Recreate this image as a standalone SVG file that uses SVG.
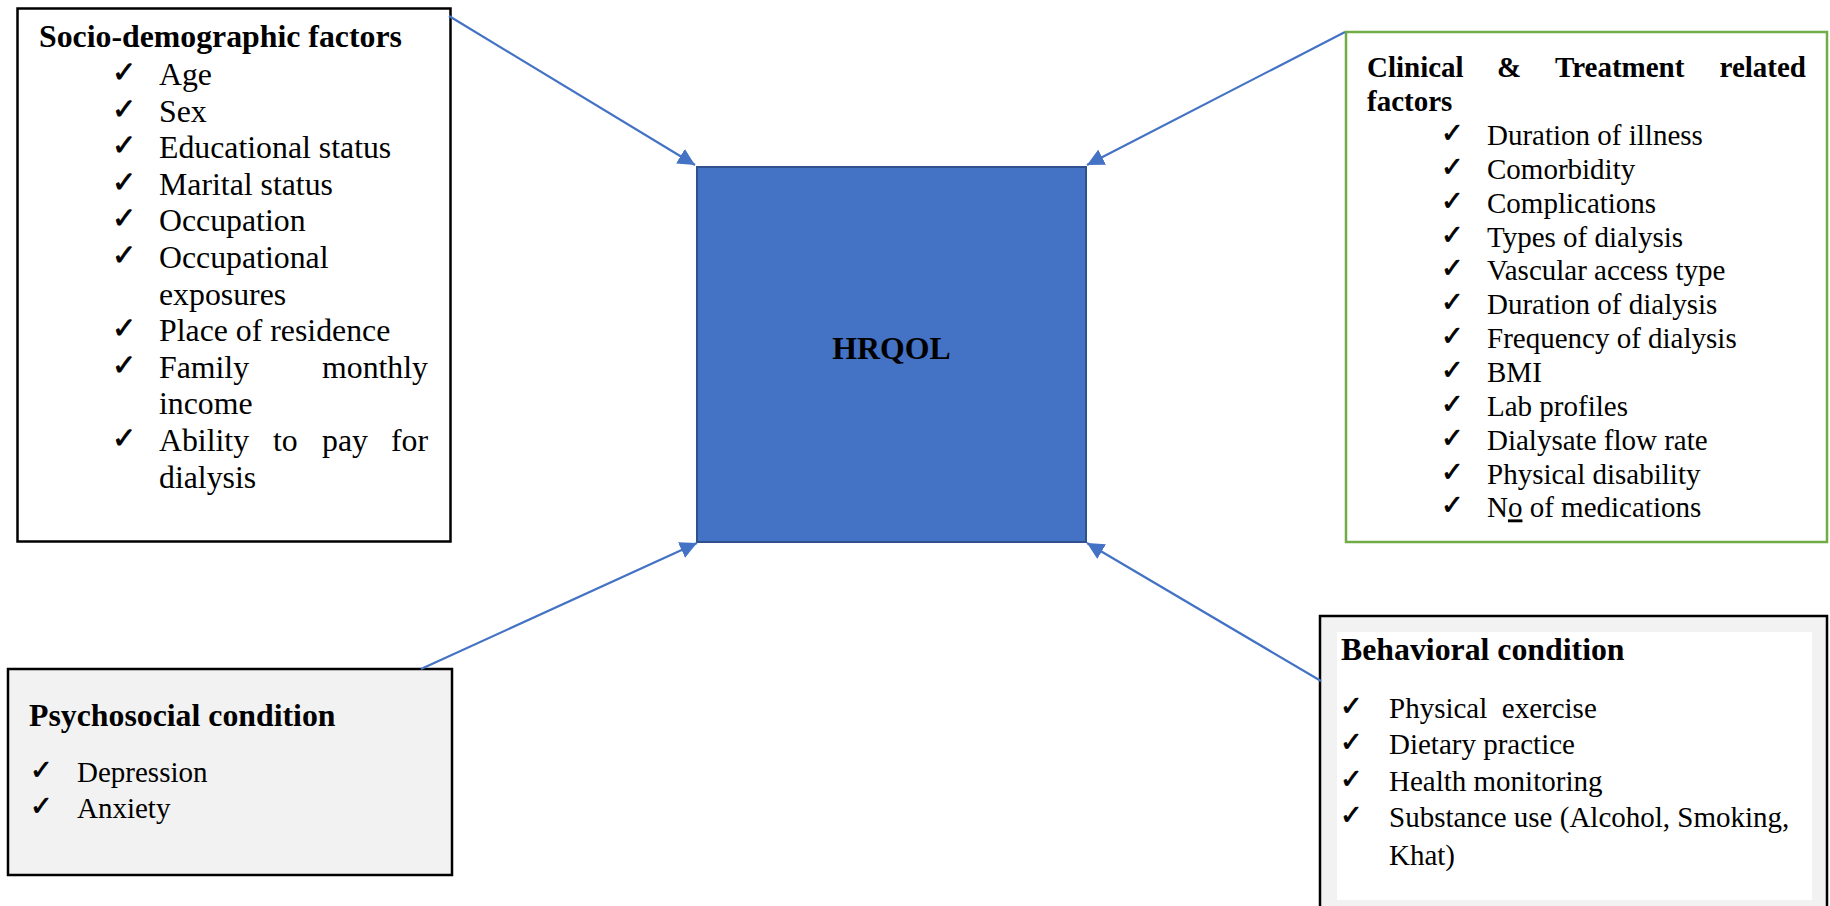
<svg xmlns="http://www.w3.org/2000/svg" width="1830" height="906" viewBox="0 0 1830 906">
<style>
  .h { font-family: "Liberation Serif", "Times New Roman", serif; font-weight: bold; fill: #000; }
  .t { font-family: "Liberation Serif", "Times New Roman", serif; fill: #000; }
  .ck { font-family: "DejaVu Sans", sans-serif; fill: #000; stroke: #000; stroke-width: 0.8; font-size: 29px; }
  .ck2 { font-size: 27px; }
  .s1 { font-size: 31.8px; }
  .s2 { font-size: 29px; }
  .conn { stroke: #4472C4; stroke-width: 2.2; fill: none; marker-end: url(#arr); }
</style>
<defs>
  <marker id="arr" viewBox="0 0 10 10" refX="10" refY="5" markerWidth="17" markerHeight="17" markerUnits="userSpaceOnUse" orient="auto">
    <path d="M0,0 L10,5 L0,10 z" fill="#4472C4"/>
  </marker>
</defs>
<rect width="1830" height="906" fill="#fff"/>

<g id="hrqol">
  <rect x="697" y="167" width="389" height="375" fill="#4472C4" stroke="#2F528F" stroke-width="2"/>
  <text class="h s1" x="891.5" y="359" text-anchor="middle">HRQOL</text>
</g>

<g id="socio">
  <rect x="17.5" y="8.5" width="433" height="533" fill="#fff" stroke="#000" stroke-width="2.5"/>
  <text class="h s1" x="39" y="47">Socio-demographic factors</text>
  <g class="ck">
    <text x="112" y="82">✓</text>
    <text x="112" y="118.6">✓</text>
    <text x="112" y="155.2">✓</text>
    <text x="112" y="191.8">✓</text>
    <text x="112" y="228.4">✓</text>
    <text x="112" y="265">✓</text>
    <text x="112" y="338.2">✓</text>
    <text x="112" y="374.8">✓</text>
    <text x="112" y="448">✓</text>
  </g>
  <g class="t s1">
    <text x="159" y="85">Age</text>
    <text x="159" y="121.6">Sex</text>
    <text x="159" y="158.2">Educational status</text>
    <text x="159" y="194.8">Marital status</text>
    <text x="159" y="231.4">Occupation</text>
    <text x="159" y="268">Occupational</text>
    <text x="159" y="304.6">exposures</text>
    <text x="159" y="341.2">Place of residence</text>
    <text x="159" y="377.8">Family</text>
    <text x="428" y="377.8" text-anchor="end">monthly</text>
    <text x="159" y="414.4">income</text>
    <text x="159" y="451">Ability</text>
    <text x="273" y="451">to</text>
    <text x="322" y="451">pay</text>
    <text x="428" y="451" text-anchor="end">for</text>
    <text x="159" y="487.6">dialysis</text>
  </g>
</g>

<g id="clinical">
  <rect x="1346" y="32" width="481" height="510" fill="#fff" stroke="#70AD47" stroke-width="2.5"/>
  <g class="h s2">
    <text x="1367" y="77">Clinical</text>
    <text x="1497" y="77">&amp;</text>
    <text x="1555" y="77">Treatment</text>
    <text x="1806" y="77" text-anchor="end">related</text>
    <text x="1367" y="111">factors</text>
  </g>
  <g class="ck ck2">
    <text x="1441" y="142">✓</text>
    <text x="1441" y="175.9">✓</text>
    <text x="1441" y="209.7">✓</text>
    <text x="1441" y="243.6">✓</text>
    <text x="1441" y="277.4">✓</text>
    <text x="1441" y="311.3">✓</text>
    <text x="1441" y="345.1">✓</text>
    <text x="1441" y="379">✓</text>
    <text x="1441" y="412.8">✓</text>
    <text x="1441" y="446.7">✓</text>
    <text x="1441" y="480.5">✓</text>
    <text x="1441" y="514.4">✓</text>
  </g>
  <g class="t s2">
    <text x="1487" y="145">Duration of illness</text>
    <text x="1487" y="178.9">Comorbidity</text>
    <text x="1487" y="212.7">Complications</text>
    <text x="1487" y="246.6">Types of dialysis</text>
    <text x="1487" y="280.4">Vascular access type</text>
    <text x="1487" y="314.3">Duration of dialysis</text>
    <text x="1487" y="348.1">Frequency of dialysis</text>
    <text x="1487" y="382">BMI</text>
    <text x="1487" y="415.8">Lab profiles</text>
    <text x="1487" y="449.7">Dialysate flow rate</text>
    <text x="1487" y="483.5">Physical disability</text>
    <text x="1487" y="517.4">N<tspan text-decoration="underline">o</tspan> of medications</text>
  </g>
</g>

<g id="psychosocial">
  <rect x="8" y="669" width="444" height="206" fill="#F2F2F2" stroke="#000" stroke-width="2.5"/>
  <text class="h s1" x="29" y="726">Psychosocial condition</text>
  <g class="ck ck2">
    <text x="30" y="779">✓</text>
    <text x="30" y="815">✓</text>
  </g>
  <g class="t s2">
    <text x="77" y="782">Depression</text>
    <text x="77" y="818">Anxiety</text>
  </g>
</g>

<g id="behavioral">
  <rect x="1320" y="616" width="507" height="310" fill="#F2F2F2" stroke="#000" stroke-width="2.5"/>
  <rect x="1337" y="632" width="475" height="268" fill="#fff"/>
  <text class="h s1" x="1341" y="660">Behavioral condition</text>
  <g class="ck ck2">
    <text x="1340" y="715">✓</text>
    <text x="1340" y="751">✓</text>
    <text x="1340" y="788">✓</text>
    <text x="1340" y="824">✓</text>
  </g>
  <g class="t s2">
    <text x="1389" y="718" xml:space="preserve">Physical  exercise</text>
    <text x="1389" y="754">Dietary practice</text>
    <text x="1389" y="791">Health monitoring</text>
    <text x="1389" y="827">Substance use (Alcohol, Smoking,</text>
    <text x="1389" y="865">Khat)</text>
  </g>
</g>

<g id="connectors">
  <line class="conn" x1="449" y1="16" x2="695" y2="165"/>
  <line class="conn" x1="1345" y1="32" x2="1087" y2="165"/>
  <line class="conn" x1="421" y1="669" x2="697" y2="543"/>
  <line class="conn" x1="1321" y1="681" x2="1087" y2="543"/>
</g>
</svg>
